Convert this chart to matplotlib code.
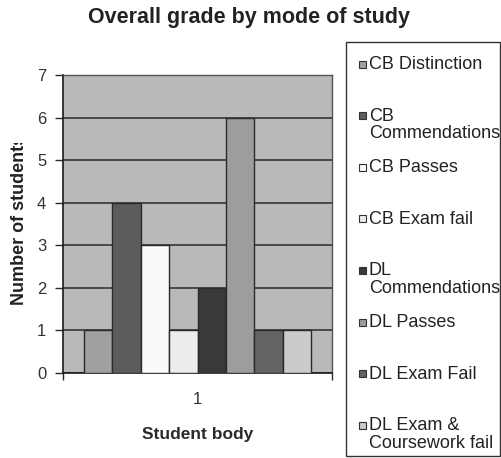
import matplotlib
matplotlib.use("Agg")
import matplotlib.pyplot as plt
from matplotlib.patches import Rectangle
import numpy as np

plt.rcParams['font.family'] = ['Liberation Sans', 'DejaVu Sans']

# data
series = ['CB Distinction', 'CB\nCommendations', 'CB Passes', 'CB Exam fail',
          'DL\nCommendations', 'DL Passes', 'DL Exam Fail', 'DL Exam &\nCoursework fail']
counts = [1, 4, 3, 1, 2, 6, 1, 1]
bar_colors = ['#a0a0a0', '#5c5c5c', '#fafafa', '#ececec',
              '#393939', '#9d9d9d', '#646464', '#cbcbcb']
category = 1

W, H = 501, 458
fig = plt.figure(figsize=(W / 100, H / 100), dpi=100)
ax = fig.add_axes([63 / W, 1 - 373 / H, (332 - 63) / W, (373 - 75) / H])
ax.set_facecolor('#b9b9b9')

bar_w = 0.1055
n = len(counts)
xs = category + (np.arange(n) - (n - 1) / 2) * bar_w
ax.bar(xs, counts, width=bar_w, color=bar_colors, edgecolor='#2a2a2a',
       linewidth=1.0, zorder=3)

ax.set_xlim(0.5, 1.5)
ax.set_ylim(0, 7)
ax.set_yticks(range(0, 8))
ax.yaxis.grid(True, color='#2a2a2a', linewidth=1.1, zorder=1)
ax.set_axisbelow(True)

ax.set_xticks([0.5, 1.5])
ax.set_xticklabels([])
ax.set_xticks([category], minor=True)
ax.set_xticklabels([str(category)], minor=True)
ax.tick_params(axis='x', which='major', direction='out', length=5, width=1, color='#2a2a2a')
ax.tick_params(axis='x', which='minor', length=0, pad=14, labelsize=12, labelcolor='#333333')
ax.tick_params(axis='y', direction='out', length=6, width=1, color='#2a2a2a',
               labelsize=12, labelcolor='#333333', pad=6)

for side in ['left', 'bottom']:
    ax.spines[side].set_color('#1a1a1a')
    ax.spines[side].set_linewidth(1.2)
for side in ['top', 'right']:
    ax.spines[side].set_color('#555555')
    ax.spines[side].set_linewidth(1.0)

ax.set_xlabel('Student body', fontsize=12.5, fontweight='bold', color='#2a2a2a', labelpad=14)

fig.text(249 / W, 1 - 18 / H, 'Overall grade by mode of study', fontsize=15.5,
         fontweight='bold', color='#222222', ha='center', va='center')

ylab = fig.text(20 / W, 1 - 305 / H, 'Number of students', rotation=90, fontsize=13,
                fontweight='bold', color='#222222', ha='center', va='bottom')
ylab.set_clip_path(Rectangle((0, 0), 1, 1 - 143 / H, transform=fig.transFigure))

# legend drawn as a boxed list, one slot per series
fig.patches.append(Rectangle((346 / W, 1 - 456 / H), (500 - 346) / W, (456 - 42) / H,
                             transform=fig.transFigure, facecolor='white',
                             edgecolor='#333333', linewidth=1.0))
y0, step, sq = 64, 51.6, 7
for i, (lab, col) in enumerate(zip(series, bar_colors)):
    yc = y0 + i * step
    fig.patches.append(Rectangle(((362 - sq / 2) / W, 1 - (yc + sq / 2) / H), sq / W, sq / H,
                                 transform=fig.transFigure, facecolor=col,
                                 edgecolor='#333333', linewidth=0.8))
    fig.text(369 / W, 1 - (yc - 8) / H, lab, fontsize=13, color='#222222',
             ha='left', va='top', linespacing=1.05)

fig.savefig('out.png', dpi=100)
